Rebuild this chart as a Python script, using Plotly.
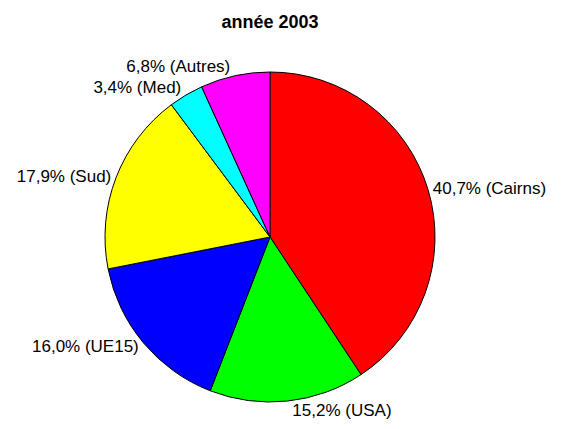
import plotly.graph_objects as go

categories = ["Cairns", "USA", "UE15", "Sud", "Med", "Autres"]
values = [40.7, 15.2, 16.0, 17.9, 3.4, 6.8]
colors = ["#FF0000", "#00FF00", "#0000FF", "#FFFF00", "#00FFFF", "#FF00FF"]

labels_txt = [f"{v:.1f}".replace(".", ",") + f"% ({c})" for c, v in zip(categories, values)]

W, H = 565, 429
off = 8  # page body margin
cx, cy, r = 270 - off, 237 - off, 165

fig = go.Figure(go.Pie(
    labels=categories,
    values=values,
    text=labels_txt,
    textinfo="text",
    textposition="outside",
    sort=False,
    direction="clockwise",
    rotation=0,
    marker=dict(colors=colors, line=dict(color="black", width=1)),
    textfont=dict(family="Liberation Sans, Arial, sans-serif", size=17, color="black"),
    automargin=False,
    showlegend=False,
    hoverinfo="label+percent",
    domain=dict(x=[(cx - r) / W, (cx + r) / W], y=[1 - (cy + r) / H, 1 - (cy - r) / H]),
))

fig.update_layout(
    width=W, height=H,
    margin=dict(l=0, r=0, t=0, b=0),
    paper_bgcolor="white",
    plot_bgcolor="white",
    title=dict(text="<b>année 2003</b>", x=(270 - off) / W, xanchor="center", y=1 - (22 - off) / H, yanchor="middle",
               font=dict(family="Liberation Sans, Arial, sans-serif", size=18, color="black")),
)

fig.write_html("out.html")
